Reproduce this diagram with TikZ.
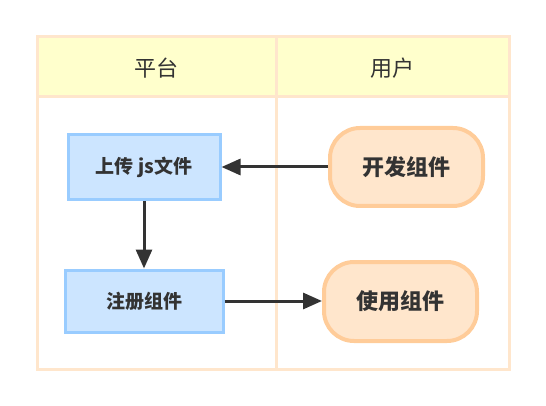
\documentclass[tikz,border=0pt]{standalone}
\usepackage{fontspec}
\setmainfont{Noto Sans CJK SC}
\usetikzlibrary{arrows.meta}
\definecolor{lanebd}{HTML}{FFE6CC}
\definecolor{headfill}{HTML}{FFFFCC}
\definecolor{bluefill}{HTML}{CCE5FF}
\definecolor{bluebd}{HTML}{99CCFF}
\definecolor{orfill}{HTML}{FFE6CC}
\definecolor{orbd}{HTML}{FFCC99}
\definecolor{ink}{HTML}{333333}
\tikzset{
  lane/.style={draw=lanebd, line width=3pt},
  headtxt/.style={font=\fontsize{22}{26}\selectfont, text=ink},
  bluebox/.style={draw=bluebd, fill=bluefill, line width=3pt, font=\bfseries\fontsize{19}{23}\selectfont, text=ink, inner sep=0pt},
  orbox/.style={draw=orbd, fill=orfill, line width=4pt, rounded corners=30pt, font=\bfseries\fontsize{22}{26}\selectfont, text=ink, inner sep=0pt},
  flow/.style={draw=ink, line width=3pt, -{Triangle[length=19pt,width=16pt]}}
}
\begin{document}
\begin{tikzpicture}[x=1pt,y=-1pt]
\useasboundingbox (0,0) rectangle (546,406);
% lanes
\fill[headfill] (37,37) rectangle (509,97);
\draw[lane] (37,37) rectangle (509,369);
\draw[lane] (37,97) -- (509,97);
\draw[lane] (276,37) -- (276,369);
\node[headtxt] (h1) at (156.5,68) {平台};
\node[headtxt] (h2) at (392.5,68) {用户};
% nodes
\node[bluebox, minimum width=152pt, minimum height=65pt] (up) at (144,167.5) {上传 js文件};
\node[bluebox, minimum width=158pt, minimum height=62pt] (reg) at (144,301) {注册组件};
\node[orbox, minimum width=153pt, minimum height=78pt] (dev) at (406.5,167) {开发组件};
\node[orbox, minimum width=153pt, minimum height=79pt] (use) at (400.5,301.5) {使用组件};
% connectors
\draw[flow] (dev.west) -- (up.east |- dev.west);
\draw[flow] (up.south) -- (reg.north);
\draw[flow] (reg.east) -- (use.west |- reg.east);
\end{tikzpicture}
\end{document}
